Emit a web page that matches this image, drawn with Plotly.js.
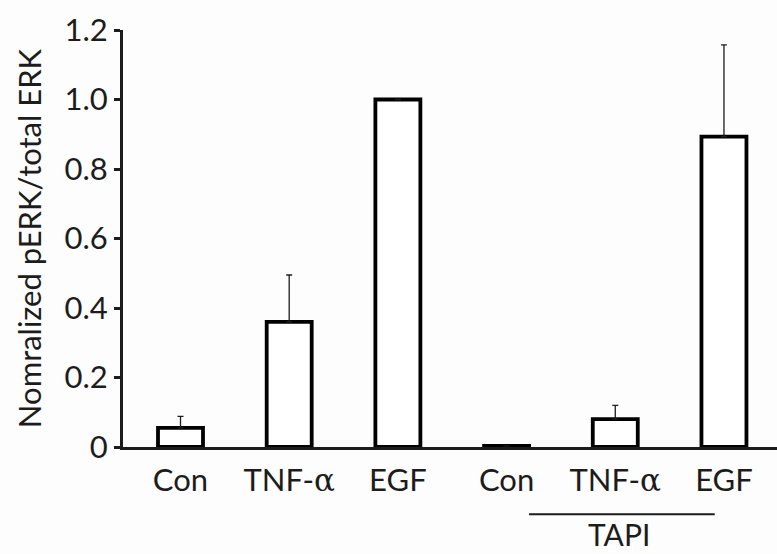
<!DOCTYPE html>
<html>
<head>
<meta charset="utf-8">
<script src="https://cdn.plot.ly/plotly-3.0.1.min.js"></script>
<style>html,body{margin:0;padding:0;background:#fdfdfd;}#chart{width:777px;height:554px;}</style>
</head>
<body>
<div id="chart"></div>
<script>
// Data
const alpha = '<span style="font-family:\'DejaVu Serif\'">α</span>';
const categories = ['Con', 'TNF-' + alpha, 'EGF', 'Con', 'TNF-' + alpha, 'EGF'];
const positions = [0, 1, 2, 3, 4, 5];
const values = [0.055, 0.36, 1.0, 0.003, 0.08, 0.893];
const errorsUp = [0.033, 0.135, 0, 0, 0.04, 0.264];
const errorsDown = [0, 0, 0, 0, 0, 0];
const yTickVals = [0, 0.2, 0.4, 0.6, 0.8, 1.0, 1.2];
const yTickText = ['0', '0.2', '0.4', '0.6', '0.8', '1.0', '1.2'];
const groupLabel = 'TAPI';
const groupStart = 3.207, groupEnd = 4.915, groupLabelAt = 4.03;

const ink = '#1c1c1c';
const font = 'Lato, "Open Sans", sans-serif';

const trace = {
  type: 'bar',
  x: positions,
  y: values,
  width: 0.414,
  marker: {color: '#ffffff', line: {color: '#000', width: 3.8}},
  error_y: {type: 'data', symmetric: false, array: errorsUp, arrayminus: errorsDown,
            color: ink, thickness: 1.3, width: 3},
  hoverinfo: 'none'
};

const layout = {
  width: 777, height: 554,
  margin: {l: 123, r: 0, t: 30, b: 107},
  paper_bgcolor: '#fdfdfd', plot_bgcolor: '#fdfdfd',
  showlegend: false,
  font: {family: font, color: ink},
  xaxis: {
    range: [-0.529, 5.488],
    tickvals: positions, ticktext: categories,
    ticks: '', showgrid: false, zeroline: false,
    showline: true, linecolor: ink, linewidth: 3,
    tickfont: {size: 31, color: ink, family: font},
    ticklabelstandoff: 4
  },
  yaxis: {
    range: [0, 1.2],
    tickvals: yTickVals, ticktext: yTickText,
    ticks: 'outside', ticklen: 6, tickwidth: 3, tickcolor: ink,
    showgrid: false, zeroline: false,
    showline: true, linecolor: ink, linewidth: 3,
    tickfont: {size: 31, color: ink, family: font},
    title: {text: 'Nomralized pERK/total ERK', font: {size: 31, color: ink, family: font}, standoff: 14}
  },
  shapes: [{type: 'line', xref: 'x', yref: 'paper', x0: groupStart, x1: groupEnd, y0: -0.161, y1: -0.161,
            line: {color: ink, width: 2}}],
  annotations: [{xref: 'x', yref: 'paper', x: groupLabelAt, y: -0.256, text: groupLabel,
                 showarrow: false, font: {size: 30, color: ink, family: font}, xanchor: 'center', yanchor: 'bottom'}]
};

Plotly.newPlot('chart', [trace], layout, {displayModeBar: false, staticPlot: true});
</script>
</body>
</html>
